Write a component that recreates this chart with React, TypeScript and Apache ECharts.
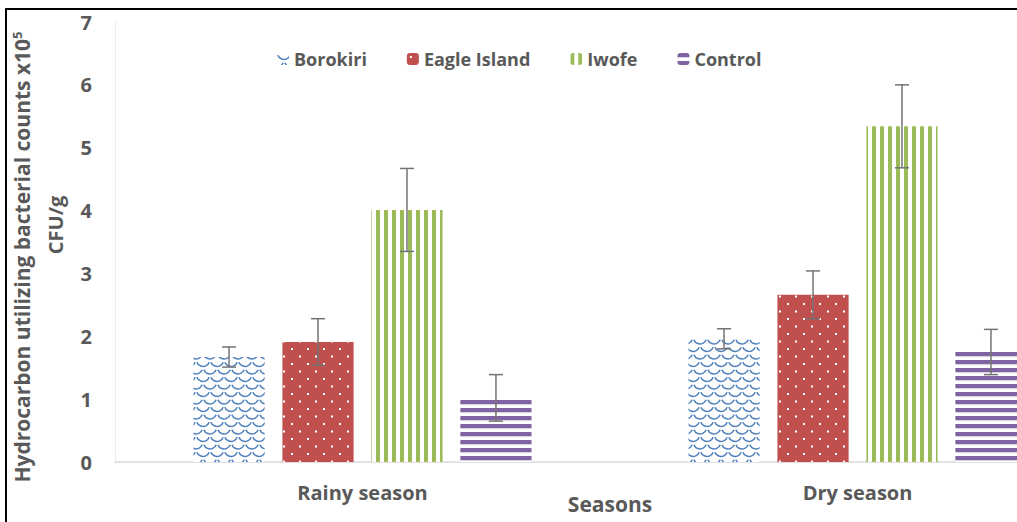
import React, { useEffect, useRef } from "react";
import * as echarts from "echarts";

const categories = ["Rainy season", "Dry season"];
const seriesNames = ["Borokiri", "Eagle Island", "Iwofe", "Control"];
const borokiri = [1.67, 1.96];
const borokiriErr = [0.16, 0.16];
const eagleIsland = [1.91, 2.66];
const eagleIslandErr = [0.37, 0.38];
const iwofe = [4.01, 5.34];
const iwofeErr = [0.66, 0.66];
const control = [1.02, 1.75];
const controlErr = [0.37, 0.36];
const yTicks = [0, 1, 2, 3, 4, 5, 6, 7];

const values = [borokiri, eagleIsland, iwofe, control];
const errors = [borokiriErr, eagleIslandErr, iwofeErr, controlErr];

const BAR_CAT_GAP = 0.317;
const BAR_GAP = 0.25;

function makeCanvas(w: number, h: number, draw: (ctx: CanvasRenderingContext2D) => void) {
  const c = document.createElement("canvas");
  c.width = w;
  c.height = h;
  const ctx = c.getContext("2d") as CanvasRenderingContext2D;
  draw(ctx);
  return c;
}

function pattern(w: number, h: number, draw: (ctx: CanvasRenderingContext2D) => void): any {
  return { image: makeCanvas(w, h, draw), repeat: "repeat", imageWidth: w, imageHeight: h };
}

export default function App() {
  const ref = useRef<HTMLDivElement>(null);
  useEffect(() => {
    if (!ref.current) return;
    const chart = echarts.init(ref.current, null, { renderer: "svg" });

    const blue = "#4F81BD";
    const scale = pattern(14, 15, (ctx) => {
      ctx.fillStyle = "#fff";
      ctx.fillRect(0, 0, 14, 15);
      ctx.strokeStyle = blue;
      ctx.lineWidth = 1.6;
      const arcs: [number, number][] = [[7, 0], [0, 7.5], [14, 7.5], [7, 15]];
      arcs.forEach(([cx, cy]) => {
        ctx.beginPath();
        ctx.arc(cx, cy, 6.5, 0.35, Math.PI - 0.35);
        ctx.stroke();
      });
    });
    const dots = pattern(16, 15, (ctx) => {
      ctx.fillStyle = "#C0504D";
      ctx.fillRect(0, 0, 16, 15);
      ctx.fillStyle = "#fff";
      ctx.fillRect(3, 3, 2, 2);
      ctx.fillRect(11, 10.5, 2, 2);
    });
    const vstripes = pattern(8, 8, (ctx) => {
      ctx.fillStyle = "#fff";
      ctx.fillRect(0, 0, 8, 8);
      ctx.fillStyle = "#9BBB59";
      ctx.fillRect(0, 0, 4, 8);
    });
    const hstripes = pattern(8, 8, (ctx) => {
      ctx.fillStyle = "#fff";
      ctx.fillRect(0, 0, 8, 8);
      ctx.fillStyle = "#8064A2";
      ctx.fillRect(0, 0, 8, 4.3);
    });
    const fills = [scale, dots, vstripes, hstripes];

    const textColor = "#595959";
    const font = "'Open Sans', sans-serif";
    const n = seriesNames.length;

    const barSeries = seriesNames.map((name, i) => ({
      name,
      type: "bar",
      data: values[i],
      barCategoryGap: (BAR_CAT_GAP * 100).toFixed(1) + "%",
      barGap: BAR_GAP * 100 + "%",
      itemStyle: { color: fills[i] },
      emphasis: { disabled: true },
    }));

    const errSeries = seriesNames.map((name, i) => ({
      type: "custom",
      name: name + " error",
      silent: true,
      z: 5,
      data: values[i].map((v, k) => [k, v - errors[i][k], v + errors[i][k]]),
      renderItem: (params: any, api: any) => {
        const cat = api.value(0);
        const lo = api.coord([cat, api.value(1)]);
        const hi = api.coord([cat, api.value(2)]);
        const band = api.size([1, 0])[0];
        const bw = (band * (1 - BAR_CAT_GAP)) / (n + (n - 1) * BAR_GAP);
        const x = lo[0] + (i - (n - 1) / 2) * bw * (1 + BAR_GAP);
        const cap = 7;
        const style = { stroke: "#737373", lineWidth: 1.5 };
        return {
          type: "group",
          children: [
            { type: "line", shape: { x1: x, y1: lo[1], x2: x, y2: hi[1] }, style },
            { type: "line", shape: { x1: x - cap, y1: lo[1], x2: x + cap, y2: lo[1] }, style },
            { type: "line", shape: { x1: x - cap, y1: hi[1], x2: x + cap, y2: hi[1] }, style },
          ],
        };
      },
    }));

    chart.setOption({
      animation: false,
      backgroundColor: "#fff",
      grid: { left: 115, top: 22, width: 990, height: 440, outerBoundsMode: "none", containLabel: false },
      legend: {
        data: seriesNames,
        left: 272,
        top: 45,
        itemWidth: 12,
        itemHeight: 12,
        itemGap: 40,
        textStyle: { color: textColor, fontSize: 18, fontWeight: "bold", fontFamily: font },
      },
      xAxis: {
        type: "category",
        data: categories,
        name: "Seasons",
        nameLocation: "middle",
        nameGap: 31,
        nameMoveOverlap: false,
        nameTextStyle: { color: textColor, fontSize: 21, fontWeight: "bold", fontFamily: font },
        axisLine: { lineStyle: { color: "#d9d9d9", width: 1.5 } },
        axisTick: { show: false },
        axisLabel: { color: textColor, fontSize: 20, fontWeight: "bold", fontFamily: font, margin: 20 },
      },
      yAxis: {
        type: "value",
        min: yTicks[0],
        max: yTicks[yTicks.length - 1],
        interval: 1,
        axisLine: { show: true, lineStyle: { color: "#ececec" } },
        axisTick: { show: false },
        splitLine: { show: false },
        axisLabel: { color: textColor, fontSize: 20, fontWeight: "bold", fontFamily: font, margin: 23 },
      },
      graphic: [
        {
          type: "text",
          x: 22,
          y: 257,
          rotation: Math.PI / 2,
          style: {
            text: "{a|Hydrocarbon utilizing bacterial counts x10}{s|5}",
            align: "center",
            verticalAlign: "middle",
            rich: {
              a: { fontSize: 21, fontWeight: "bold", fontFamily: font, fill: textColor, color: textColor },
              s: { fontSize: 13, fontWeight: "bold", fontFamily: font, fill: textColor, color: textColor, padding: [0, 0, 10, 0] },
            },
          },
        },
        {
          type: "text",
          x: 55,
          y: 225,
          rotation: Math.PI / 2,
          style: {
            text: "CFU/g",
            align: "center",
            verticalAlign: "middle",
            fontSize: 20,
            fontWeight: "bold",
            fontFamily: font,
            fill: textColor,
          },
        },
      ],
      series: [...barSeries, ...errSeries],
    });
    return () => chart.dispose();
  }, []);

  return (
    <div style={{ position: "fixed", left: 0, top: 0, width: 1017, height: 522, overflow: "hidden", background: "#fff" }}>
      <div ref={ref} style={{ position: "absolute", left: 0, top: 0, width: 1110, height: 522 }} />
      <div style={{ position: "absolute", left: 5, top: 8, width: 1.5, height: 520, background: "#000" }} />
      <div style={{ position: "absolute", left: 5, top: 8, width: 1020, height: 1.5, background: "#000" }} />
    </div>
  );
}
